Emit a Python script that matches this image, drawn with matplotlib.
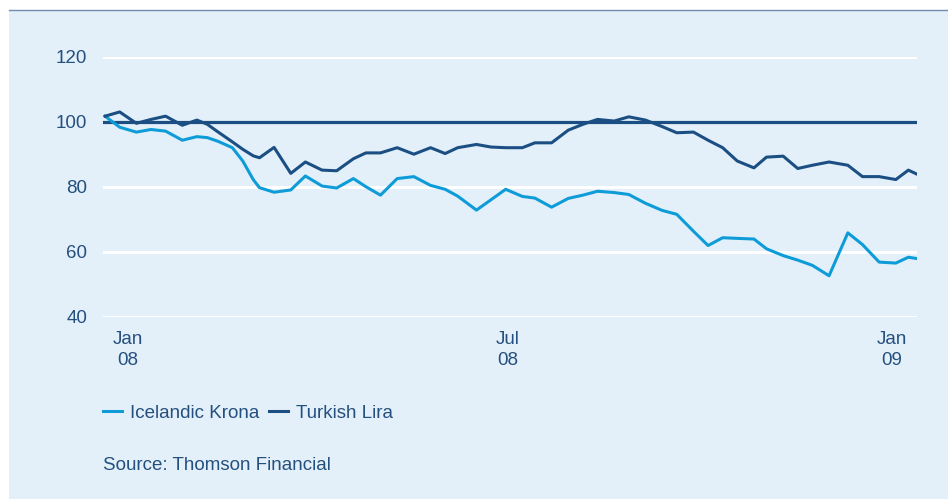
import matplotlib
matplotlib.use("Agg")
import matplotlib.pyplot as plt
import pandas as pd
from matplotlib.patches import Rectangle
from matplotlib.lines import Line2D

plt.rcParams['font.family'] = ['Liberation Sans', 'DejaVu Sans']

dates = pd.to_datetime([
    "2007-12-21", "2007-12-28", "2008-01-05", "2008-01-12", "2008-01-19", "2008-01-27",
    "2008-02-03", "2008-02-08", "2008-02-13", "2008-02-20", "2008-02-25", "2008-03-01",
    "2008-03-04", "2008-03-11", "2008-03-19", "2008-03-26", "2008-04-03", "2008-04-10",
    "2008-04-18", "2008-04-24", "2008-05-01", "2008-05-09", "2008-05-17", "2008-05-25",
    "2008-06-01", "2008-06-07", "2008-06-16", "2008-06-23", "2008-06-30", "2008-07-08",
    "2008-07-14", "2008-07-22", "2008-07-30", "2008-08-06", "2008-08-13", "2008-08-21",
    "2008-08-28", "2008-09-05", "2008-09-13", "2008-09-20", "2008-09-28", "2008-10-05",
    "2008-10-12", "2008-10-19", "2008-10-27", "2008-11-02", "2008-11-10", "2008-11-17",
    "2008-11-24", "2008-12-02", "2008-12-11", "2008-12-18", "2008-12-26", "2009-01-03",
    "2009-01-09", "2009-01-13",
])

icelandic_krona = [
    101.7, 98.3, 96.8, 97.6, 97.1, 94.3,
    95.4, 95.1, 94.0, 92.0, 87.9, 82.2,
    79.7, 78.3, 79.0, 83.3, 80.2, 79.6,
    82.5, 80.0, 77.4, 82.5, 83.1, 80.4,
    79.2, 77.1, 72.8, 76.0, 79.2, 77.0,
    76.5, 73.7, 76.4, 77.4, 78.6, 78.2,
    77.6, 74.9, 72.7, 71.5, 66.3, 61.9,
    64.3, 64.1, 63.9, 60.9, 58.8, 57.4,
    55.8, 52.6, 65.8, 62.2, 56.8, 56.5,
    58.3, 57.9,
]

turkish_lira = [
    101.7, 103.0, 99.5, 100.7, 101.7, 98.9,
    100.5, 99.2, 96.9, 93.8, 91.5, 89.5,
    88.9, 92.1, 84.1, 87.6, 85.1, 84.9,
    88.6, 90.4, 90.4, 92.0, 90.0, 92.0,
    90.2, 92.0, 93.0, 92.2, 92.0, 92.0,
    93.5, 93.5, 97.4, 99.2, 100.7, 100.2,
    101.5, 100.5, 98.5, 96.6, 96.8, 94.3,
    92.0, 87.9, 85.8, 89.1, 89.4, 85.6,
    86.6, 87.6, 86.6, 83.1, 83.1, 82.2,
    85.1, 83.9,
]

y_ticks = [40, 60, 80, 100, 120]
x_tick_dates = pd.to_datetime(["2008-01-01", "2008-07-01", "2009-01-01"])
x_tick_labels = ["Jan\n08", "Jul\n08", "Jan\n09"]
reference_level = 100
source_text = "Source: Thomson Financial"

BG = '#E4F0F9'
TEXT = '#24507F'
DARK = '#1B4F84'
LIGHT = '#0E9CD8'
FS = 13.5

W, H = 948, 499
fig = plt.figure(figsize=(W / 100, H / 100), dpi=100)
fig.patch.set_facecolor('white')
fig.patches.append(Rectangle((9 / W, 0), 1 - 9 / W, 1 - 10 / H, transform=fig.transFigure,
                             facecolor=BG, edgecolor='none', zorder=-10))
fig.lines.append(Line2D([9 / W, 1], [1 - 10 / H, 1 - 10 / H], transform=fig.transFigure,
                        color='#6F8DB0', linewidth=1.0))

left, right = 103 / W, 916.7 / W
bottom, top = 1 - 316.7 / H, 1 - 56.7 / H
ax = fig.add_axes([left, bottom, right - left, top - bottom])
ax.set_facecolor('none')
for s in ax.spines.values():
    s.set_visible(False)

for y in y_ticks:
    if y != reference_level:
        ax.axhline(y, color='white', linewidth=2.2, zorder=1)
ax.axhline(reference_level, color=DARK, linewidth=2.3, zorder=2)

ax.plot(dates, icelandic_krona, color=LIGHT, linewidth=2.2, label='Icelandic Krona', zorder=3)
ax.plot(dates, turkish_lira, color=DARK, linewidth=2.2, label='Turkish Lira', zorder=4)

ax.set_ylim(40, 120)
ax.set_xlim(dates[0] - pd.Timedelta(days=1), dates[-1])
ax.set_yticks(y_ticks)
ax.set_xticks(x_tick_dates)
ax.set_xticklabels(x_tick_labels)
ax.tick_params(axis='both', length=0, labelsize=FS, labelcolor=TEXT)
ax.tick_params(axis='y', pad=11.5)
ax.tick_params(axis='x', pad=10.5)
for lab in ax.get_xticklabels():
    lab.set_linespacing(1.25)

fig.legend(loc='center left', bbox_to_anchor=(103 / W, 1 - 413 / H), ncol=2, frameon=False,
           fontsize=FS, labelcolor=TEXT, handlelength=1.0, handletextpad=0.45,
           columnspacing=0.5, borderpad=0, borderaxespad=0)

fig.text(103 / W, 1 - 465 / H, source_text, fontsize=FS, color=TEXT, va='center', ha='left')

fig.savefig('out.png', dpi=100, facecolor=fig.get_facecolor())
